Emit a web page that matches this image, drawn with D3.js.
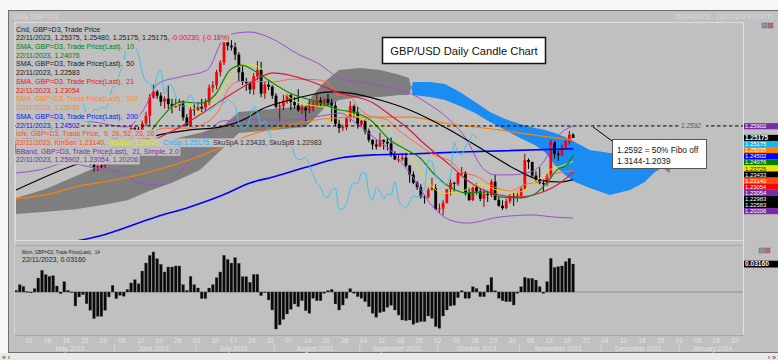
<!DOCTYPE html>
<html><head><meta charset="utf-8">
<script src="https://cdn.jsdelivr.net/npm/d3@7"></script>
<style>
html,body{margin:0;padding:0;background:#f6f6f6;overflow:hidden;}
svg{display:block;font-family:"Liberation Sans",Arial,sans-serif;}
text{white-space:pre;}
</style></head><body>
<svg id="c" width="778" height="360"></svg>
<script>
// ---------------- DATA ----------------
// Daily candles 26/04/2023 .. 22/11/2023 : [open, high, low, close]
const ohlc = [
[1.2430,1.2500,1.2415,1.2475],[1.2475,1.2510,1.2440,1.2495],[1.2495,1.2585,1.2480,1.2567],[1.2567,1.2575,1.2440,1.2494],
[1.2494,1.2545,1.2460,1.2490],[1.2490,1.2580,1.2485,1.2567],[1.2567,1.2590,1.2530,1.2566],[1.2566,1.2645,1.2545,1.2632],
[1.2632,1.2640,1.2590,1.2620],[1.2620,1.2640,1.2585,1.2628],[1.2628,1.2680,1.2600,1.2630],[1.2630,1.2640,1.2470,1.2486],
[1.2486,1.2500,1.2435,1.2451],[1.2451,1.2535,1.2445,1.2525],[1.2525,1.2545,1.2470,1.2485],[1.2485,1.2510,1.2455,1.2476],
[1.2476,1.2490,1.2410,1.2419],[1.2419,1.2470,1.2395,1.2446],[1.2446,1.2470,1.2420,1.2438],[1.2438,1.2450,1.2390,1.2414],
[1.2414,1.2425,1.2345,1.2360],[1.2360,1.2375,1.2308,1.2336],[1.2336,1.2370,1.2310,1.2346],[1.2346,1.2380,1.2330,1.2343],
[1.2343,1.2410,1.2330,1.2394],[1.2394,1.2450,1.2350,1.2436],[1.2436,1.2545,1.2425,1.2525],[1.2525,1.2545,1.2430,1.2453],
[1.2453,1.2475,1.2370,1.2434],[1.2434,1.2440,1.2375,1.2435],[1.2435,1.2490,1.2410,1.2477],[1.2477,1.2585,1.2460,1.2578],
[1.2578,1.2590,1.2540,1.2570],[1.2570,1.2585,1.2490,1.2505],[1.2505,1.2625,1.2500,1.2607],[1.2607,1.2680,1.2590,1.2655],
[1.2655,1.2790,1.2590,1.2770],[1.2770,1.2848,1.2760,1.2805],[1.2805,1.2815,1.2760,1.2780],[1.2780,1.2800,1.2715,1.2742],
[1.2742,1.2775,1.2700,1.2761],[1.2761,1.2840,1.2700,1.2727],[1.2727,1.2760,1.2670,1.2714],[1.2714,1.2760,1.2705,1.2715],
[1.2715,1.2760,1.2685,1.2745],[1.2745,1.2750,1.2625,1.2645],[1.2645,1.2665,1.2590,1.2595],[1.2595,1.2710,1.2590,1.2695],
[1.2695,1.2725,1.2655,1.2690],[1.2690,1.2740,1.2680,1.2710],[1.2710,1.2760,1.2675,1.2700],[1.2700,1.2760,1.2680,1.2740],
[1.2740,1.2850,1.2720,1.2830],[1.2830,1.2870,1.2800,1.2845],[1.2845,1.2940,1.2820,1.2925],[1.2925,1.3000,1.2900,1.2985],
[1.2985,1.3130,1.2970,1.3125],[1.3125,1.3144,1.3060,1.3090],[1.3090,1.3125,1.3060,1.3080],[1.3080,1.3110,1.3000,1.3035],
[1.3035,1.3050,1.2870,1.2925],[1.2925,1.2965,1.2845,1.2868],[1.2868,1.2890,1.2810,1.2858],[1.2858,1.2865,1.2790,1.2818],
[1.2818,1.2920,1.2785,1.2900],[1.2900,1.2995,1.2880,1.2939],[1.2939,1.2990,1.2770,1.2792],[1.2792,1.2870,1.2760,1.2848],
[1.2848,1.2875,1.2815,1.2836],[1.2836,1.2845,1.2760,1.2780],[1.2780,1.2795,1.2700,1.2712],[1.2712,1.2740,1.2620,1.2715],
[1.2715,1.2785,1.2690,1.2750],[1.2750,1.2790,1.2730,1.2783],[1.2783,1.2790,1.2690,1.2740],[1.2740,1.2770,1.2700,1.2720],
[1.2720,1.2820,1.2680,1.2690],[1.2690,1.2725,1.2665,1.2705],[1.2705,1.2715,1.2615,1.2688],[1.2688,1.2760,1.2670,1.2702],
[1.2702,1.2750,1.2680,1.2725],[1.2725,1.2790,1.2710,1.2750],[1.2750,1.2770,1.2710,1.2735],[1.2735,1.2760,1.2720,1.2758],
[1.2758,1.2790,1.2720,1.2735],[1.2735,1.2760,1.2620,1.2718],[1.2718,1.2740,1.2590,1.2605],[1.2605,1.2630,1.2548,1.2578],
[1.2578,1.2600,1.2560,1.2585],[1.2585,1.2650,1.2565,1.2640],[1.2640,1.2745,1.2615,1.2715],[1.2715,1.2725,1.2640,1.2675],
[1.2675,1.2710,1.2575,1.2600],[1.2600,1.2630,1.2590,1.2625],[1.2625,1.2635,1.2540,1.2560],[1.2560,1.2575,1.2490,1.2505],
[1.2505,1.2510,1.2445,1.2476],[1.2476,1.2505,1.2445,1.2465],[1.2465,1.2550,1.2460,1.2504],[1.2504,1.2510,1.2445,1.2493],
[1.2493,1.2515,1.2440,1.2483],[1.2483,1.2520,1.2400,1.2412],[1.2412,1.2435,1.2380,1.2384],[1.2384,1.2415,1.2365,1.2386],
[1.2386,1.2425,1.2375,1.2396],[1.2396,1.2425,1.2335,1.2346],[1.2346,1.2350,1.2240,1.2290],[1.2290,1.2310,1.2230,1.2239],
[1.2239,1.2250,1.2195,1.2212],[1.2212,1.2230,1.2140,1.2154],[1.2154,1.2165,1.2110,1.2150],[1.2150,1.2210,1.2140,1.2195],
[1.2195,1.2270,1.2190,1.2205],[1.2205,1.2230,1.2070,1.2074],[1.2074,1.2110,1.2050,1.2079],[1.2079,1.2130,1.2037,1.2114],
[1.2114,1.2200,1.2110,1.2199],[1.2199,1.2260,1.2160,1.2239],[1.2239,1.2245,1.2185,1.2233],[1.2233,1.2305,1.2220,1.2299],
[1.2299,1.2337,1.2280,1.2302],[1.2302,1.2310,1.2160,1.2174],[1.2174,1.2210,1.2125,1.2132],[1.2132,1.2220,1.2125,1.2211],
[1.2211,1.2235,1.2165,1.2185],[1.2185,1.2200,1.2125,1.2140],[1.2140,1.2200,1.2090,1.2170],[1.2170,1.2190,1.2120,1.2163],
[1.2163,1.2260,1.2150,1.2246],[1.2246,1.2290,1.2130,1.2133],[1.2133,1.2150,1.2090,1.2096],[1.2096,1.2130,1.2070,1.2082],
[1.2082,1.2140,1.2075,1.2125],[1.2125,1.2170,1.2110,1.2157],[1.2157,1.2180,1.2095,1.2151],[1.2151,1.2185,1.2120,1.2160],
[1.2160,1.2215,1.2140,1.2202],[1.2202,1.2420,1.2195,1.2380],[1.2380,1.2390,1.2325,1.2368],[1.2368,1.2370,1.2270,1.2284],
[1.2284,1.2310,1.2240,1.2260],[1.2260,1.2335,1.2230,1.2237],[1.2237,1.2260,1.2185,1.2233],[1.2233,1.2295,1.2220,1.2281],
[1.2281,1.2505,1.2265,1.2492],[1.2492,1.2505,1.2390,1.2419],[1.2419,1.2440,1.2375,1.2412],[1.2412,1.2475,1.2405,1.2460],
[1.2460,1.2510,1.2445,1.2493],[1.2493,1.2560,1.2475,1.2538],[1.25375,1.25480,1.25175,1.25175]
];
// indicator lines: [candle index, price]
const sma10 = [[0,1.2517],[7.8,1.2579],[15.8,1.2443],[22.5,1.2381],[29.1,1.2430],[35,1.2523],[39.3,1.2647],[44.2,1.2741],[49.5,1.2734],[53.6,1.2784],[57.6,1.2939],[60.8,1.2970],[64.3,1.2933],[69.2,1.2858],[73.8,1.2796],[81.1,1.2741],[87.2,1.2691],[91.8,1.2672],[95.4,1.2629],[100.7,1.2505],[105.2,1.2443],[108.8,1.2393],[112.3,1.2300],[116.8,1.2213],[121.4,1.2176],[126.8,1.2182],[130.3,1.2151],[135.7,1.2145],[139.2,1.2163],[142.9,1.2238],[145.7,1.2319],[148.3,1.2350],[150,1.24076]];
const sma21 = [[0,1.2486],[11.8,1.2498],[22.5,1.2455],[30.5,1.2443],[37.7,1.2511],[44.2,1.2585],[51.5,1.2691],[57.6,1.2784],[63,1.2858],[69.2,1.2921],[78.3,1.2877],[87.2,1.2796],[96.2,1.2734],[100.7,1.2660],[106,1.2567],[108.8,1.2505],[116.8,1.2350],[121.4,1.2256],[125.8,1.2194],[130.3,1.2163],[134.9,1.2151],[141.1,1.2176],[146.5,1.2238],[150,1.23054]];
const sma50 = [[0,1.2194],[13.6,1.2331],[25,1.2420],[38.5,1.2536],[46.8,1.2567],[54.9,1.2585],[62.2,1.2641],[65.7,1.2691],[73.8,1.2753],[79.2,1.2784],[84.6,1.2803],[89.9,1.2796],[98,1.2753],[106,1.2691],[116.8,1.2567],[125.8,1.2443],[134.9,1.2318],[141.1,1.2256],[146.5,1.2244],[150,1.22583]];
const sma100 = [[0,1.2139],[9.1,1.2170],[17.1,1.2219],[25.1,1.2250],[35,1.2300],[45,1.2368],[54.9,1.2455],[63,1.2536],[71.1,1.2585],[82.7,1.2635],[91.8,1.2647],[106,1.2647],[116.8,1.2604],[130.3,1.2567],[139.2,1.2536],[150,1.25035]];
const sma200 = [[0,1.1800],[10,1.1850],[22.5,1.1909],[37.7,1.2027],[46.8,1.2089],[55.7,1.2163],[63,1.2238],[69.2,1.2275],[78.3,1.2337],[87.2,1.2393],[96.2,1.2412],[106,1.2418],[119.5,1.2430],[150,1.24502]];
const tenkan = [[0,1.2470],[5,1.2510],[10,1.2560],[15,1.2558],[20,1.2445],[25,1.2389],[30,1.2428],[35,1.2525],[40,1.2669],[45,1.2736],[50,1.2675],[55,1.2795],[58,1.2910],[62,1.2977],[66,1.2948],[70,1.2848],[75,1.2748],[80,1.2718],[85,1.2703],[90,1.2669],[95,1.2618],[100,1.2575],[105,1.2443],[110,1.2273],[115,1.2174],[120,1.2187],[125,1.2231],[130,1.2190],[135,1.2180],[140,1.2248],[144,1.2323],[147,1.2345],[150,1.23725]];
const kijun = [[0,1.2388],[10,1.2513],[20,1.2513],[25,1.2494],[30,1.2494],[36,1.2549],[40,1.2578],[46,1.2578],[50,1.2599],[55,1.2705],[57,1.2817],[60,1.2867],[70,1.2867],[74,1.2882],[80,1.2880],[84,1.2863],[86,1.2793],[90,1.2772],[92,1.2712],[95,1.2655],[100,1.2630],[102,1.2585],[106,1.2515],[109,1.2465],[113,1.2408],[115,1.2391],[117,1.2374],[120,1.2306],[124,1.2279],[127,1.2236],[131,1.2194],[133,1.2187],[137,1.2229],[141,1.2245],[144,1.2288],[150,1.23140]];
const bbUpper = [[0,1.2570],[10,1.2640],[20,1.2620],[30,1.2585],[34,1.2680],[38.5,1.2858],[44.2,1.2896],[51.5,1.2939],[55.7,1.3125],[59.5,1.3169],[63,1.3175],[68.5,1.3138],[76.4,1.3032],[81.1,1.2983],[87.2,1.2890],[94.6,1.2858],[99.9,1.2834],[106,1.2796],[110.7,1.2734],[116.8,1.2629],[121.4,1.2505],[125,1.2350],[129,1.2288],[133,1.2288],[138.4,1.2306],[142.4,1.2381],[145.1,1.2505],[147.8,1.2567],[150,1.25902]];
const bbLower = [[0,1.2300],[6.4,1.2319],[13.6,1.2362],[21.1,1.2331],[27.8,1.2306],[33.2,1.2238],[38.5,1.2225],[46.8,1.2381],[51.5,1.2548],[55.7,1.2623],[60.3,1.2629],[71.1,1.2629],[78.3,1.2641],[83.8,1.2660],[87.2,1.2672],[91.2,1.2616],[96.2,1.2523],[100.7,1.2443],[106,1.2300],[112.3,1.2089],[116.8,1.2008],[121.4,1.1989],[130.3,1.2027],[139.2,1.2039],[144.6,1.2027],[150,1.20206]];
// Ichimoku cloud (plotted 26 ahead): [index, senkou span A, senkou span B]
const cloud = [[0,1.2145,1.2045],[8,1.2200,1.2060],[16,1.2280,1.2075],[24,1.2360,1.2105],[30,1.2412,1.2130],[36,1.2480,1.2190],[42,1.2510,1.2240],[49.5,1.2548,1.2319],[56,1.2598,1.2460],[60,1.2679,1.2548],[66,1.2691,1.2561],[72,1.2703,1.2573],[78,1.2716,1.2585],[80,1.2784,1.2629],[83,1.2865,1.2703],[87,1.2939,1.2753],[92.6,1.2952,1.2772],[98,1.2939,1.2772],[103.4,1.2908,1.2784],[105.8,1.2890,1.2784],[106.9,1.2784,1.2865],[111.5,1.2772,1.2865],[115.5,1.2753,1.2852],[119.5,1.2716,1.2803],[123.6,1.2672,1.2741],[127.6,1.2616,1.2679],[131.7,1.2567,1.2635],[135.7,1.2517,1.2604],[139.7,1.2474,1.2579],[142.4,1.2430,1.2567],[145.1,1.2350,1.2548],[147.8,1.2288,1.2523],[150.5,1.2244,1.2492],[154.5,1.2207,1.2443],[159.9,1.2163,1.2424],[165.3,1.2194,1.2418],[169.3,1.2244,1.2399],[172,1.2306,1.2368],[174,1.2334,1.2334],[176,1.23433,1.22983]];
// Momentum(14), thousandths
const momentum = [1.9,8.3,6.4,0.5,-1.0,3.8,15.8,24.5,19.6,17.7,18.4,6.8,-1.9,11.7,1.9,-0.8,-15.8,-5.6,-3.0,-13.2,
-20.7,-30.1,-27.5,-27.5,-20.7,-5.6,7.5,-7.5,-3.8,-4.9,3.0,10.2,13.9,9.4,23.7,32.7,41.4,45.2,37.6,31.2,
22.6,28.2,28.2,29.4,29.4,8.3,1.9,17.7,8.3,4.5,-7.5,-7.5,4.5,8.3,16.2,22.6,41.4,36.9,32.7,38.8,
32.4,17.3,17.3,10.9,19.9,19.9,-4.1,-0.3,-9.0,-20.3,-41.8,-37.2,-30.9,-24.8,-19.6,-13.5,-16.6,-9.8,-21.1,-24.1,
-7.1,-9.8,-9.8,-1.5,1.5,3.0,-13.5,-20.3,-14.7,-7.1,3.8,-1.5,-5.3,-7.1,-10.9,-16.6,-24.1,-28.6,-23.3,-22.2,
-17.3,-15.0,-20.3,-26.0,-31.6,-32.4,-31.6,-36.5,-34.6,-33.5,-33.5,-27.1,-29.7,-39.1,-41.0,-27.1,-20.3,-15.8,-15.0,-6.4,
1.5,-7.1,-7.1,6.0,4.1,-5.3,-5.3,7.9,16.6,1.5,-7.1,-9.8,-10.9,-10.9,-14.7,-1.5,6.0,16.6,15.4,15.4,
13.5,6.0,-1.5,11.7,38.0,27.8,28.6,29.4,34.3,38.0,31.6];
// axis labels
const weekLabels = ["01","08","15","22","29","05","12","19","26","03","10","17","24","31","07","14","21","28","04","11","18","25","02","09","16","23","30","06","13","20","27","04","11","18","25","01","08","15","22"];
const weekStartIndex = 3; // Monday 01/05/2023
const monthNames = ["May 2023","June 2023","July 2023","August 2023","September 2023","October 2023","November 2023","December 2023","January 2024"];
const monthStart = [3,26,48,69,92,113,135,157,178,197];
// right axis value tags
const tagValues = [1.25902,1.25175,1.25175,1.25035,1.24502,1.24076,1.23725,1.23433,1.23140,1.23054,1.23054,1.22983,1.22583,1.20206];
const tagColors = ["#7a2aa8","#000000","#18b4ef","#ff7f00","#0000ff","#008000","#e6e600","#000000","#ff4a10","#ff0000","#7a2aa8","#000000","#000000","#7a2aa8"];
const legendLines = [
 [["Cnd, GBP=D3, Trade Price","#1a1a1a"]],
 [["22/11/2023, 1.25375, 1.25480, 1.25175, 1.25175, ","#1a1a1a"],["-0.00230, (-0.18%)","#f01010"]],
 [["SMA, GBP=D3, Trade Price(Last),  10","#008000"]],
 [["22/11/2023, 1.24076","#008000"]],
 [["SMA, GBP=D3, Trade Price(Last),  50","#1a1a1a"]],
 [["22/11/2023, 1.22583","#1a1a1a"]],
 [["SMA, GBP=D3, Trade Price(Last),  21","#f01010"]],
 [["22/11/2023, 1.23054","#f01010"]],
 [["SMA, GBP=D3, Trade Price(Last),  100","#ff8a20"]],
 [["22/11/2023, 1.25035","#ff8a20"]],
 [["SMA, GBP=D3, Trade Price(Last),  200","#1010f0"]],
 [["22/11/2023, 1.24502","#1010f0"]],
 [["Ichi, GBP=D3, Trade Price,  9, 26, 52, 26, 26","#ff4a10"]],
 [["22/11/2023, KinSen 1.23140, ","#ff4a10"],["TenSen 1.23725, ","#e6e600"],["ChiSp 1.25175, ","#18b4ef"],["SkuSpA 1.23433, SkuSpB 1.22983","#303030"]],
 [["BBand, GBP=D3, Trade Price(Last),  21, Simple, 2.0","#7a2aa8"]],
 [["22/11/2023, 1.25902, 1.23054, 1.20206","#7a2aa8"]]
];

// ---------------- LAYOUT ----------------
const PL=15, PR=743, MT=22, MB=240, ST=245, SB=335;
const BG="#c0c0c0";
const svg = d3.select("#c");
const x = d3.scaleLinear().domain([0,150]).range([16,16+150*3.714]);
const y = d3.scaleLinear().domain([1.18839,1.32371]).range([MB,MT]);
const ym = d3.scaleLinear().domain([-0.04853,0.05305]).range([SB,ST]);

svg.append("rect").attr("width",778).attr("height",360).attr("fill","#f6f6f6");
svg.append("rect").attr("x",8.5).attr("y",10.5).attr("width",772).attr("height",342).attr("fill",BG).attr("stroke","#6e6e6e");
svg.append("text").attr("x",13).attr("y",18.5).attr("font-size",7).attr("fill","#dadada").text("Daily GBP=D3");
svg.append("text").attr("x",773).attr("y",18.5).attr("font-size",7).attr("fill","#dadada").attr("text-anchor","end").text("26/04/2023 - 26/01/2024 (GMT)");

const defs = svg.append("defs");
defs.append("clipPath").attr("id","cm").append("rect").attr("x",PL).attr("y",MT).attr("width",PR-PL).attr("height",MB-MT);
defs.append("clipPath").attr("id","cs").append("rect").attr("x",PL).attr("y",ST).attr("width",PR-PL).attr("height",SB-ST);

// panel frames
svg.append("rect").attr("x",PL+0.5).attr("y",MT+0.5).attr("width",PR-PL).attr("height",MB-MT).attr("fill",BG).attr("stroke","#dedede");
svg.append("rect").attr("x",PL+0.5).attr("y",ST+0.5).attr("width",PR-PL).attr("height",SB-ST).attr("fill",BG).attr("stroke","#a6a6a6");
svg.append("line").attr("x1",PL).attr("x2",PL).attr("y1",MT).attr("y2",SB).attr("stroke","#dedede");
svg.append("line").attr("x1",PR+0.5).attr("x2",PR+0.5).attr("y1",MT).attr("y2",SB).attr("stroke","#e2e2e2");

const gm = svg.append("g").attr("clip-path","url(#cm)");

// cloud, with crossing points inserted so the two colours meet cleanly
const cpts=[];
cloud.forEach((p,k)=>{cpts.push(p); const q=cloud[k+1]; if(q){const d1=p[1]-p[2], d2=q[1]-q[2]; if(d1*d2<0){const t=d1/(d1-d2); cpts.push([p[0]+t*(q[0]-p[0]),p[1]+t*(q[1]-p[1]),p[2]+t*(q[2]-p[2])]);}}});
gm.append("path").datum(cpts).attr("fill","#7e7e7e")
  .attr("d",d3.area().x(d=>x(d[0])).y0(d=>y(d[2])).y1(d=>Math.min(y(d[1]),y(d[2]))));
gm.append("path").datum(cpts).attr("fill","#1b8cf2")
  .attr("d",d3.area().x(d=>x(d[0])).y0(d=>y(d[1])).y1(d=>Math.min(y(d[1]),y(d[2]))));

const line = d3.line().x(d=>x(d[0])).y(d=>y(d[1])).curve(d3.curveMonotoneX);
function drawLine(data,color,w){gm.append("path").datum(data).attr("fill","none").attr("stroke",color).attr("stroke-width",w).attr("d",line);}

// candles
const cg = gm.append("g");
ohlc.forEach((d,i)=>{
  const up = d[3]>d[0];
  cg.append("line").attr("x1",x(i)).attr("x2",x(i)).attr("y1",y(d[1])).attr("y2",y(d[2])).attr("stroke",up?"#8a0000":"#000").attr("stroke-width",1);
  const top=y(Math.max(d[0],d[3])), bot=y(Math.min(d[0],d[3]));
  cg.append("rect").attr("x",x(i)-1.4).attr("width",2.8).attr("y",top).attr("height",Math.max(1,bot-top)).attr("fill",up?"#ff0000":"#000");
});

drawLine(bbUpper,"#9b4fd0",1);
drawLine(bbLower,"#9b4fd0",1);
drawLine(sma200,"#0000ff",1.6);
drawLine(sma100,"#ff8000",1.2);
drawLine(sma50,"#000000",1.2);
drawLine(kijun,"#ff6a3a",1);
drawLine(tenkan,"#e6e600",1);
drawLine(sma21,"#d81848",1.2);
drawLine(sma10,"#0a8a0a",1.2);

// fibo dashed line
gm.append("line").attr("x1",PL).attr("x2",PR).attr("y1",y(1.2592)).attr("y2",y(1.2592)).attr("stroke","#000").attr("stroke-dasharray","3.5,2.5").attr("stroke-width",1);
gm.append("rect").attr("x",679).attr("y",y(1.2592)-3.5).attr("width",27).attr("height",7).attr("fill",BG);
gm.append("text").attr("x",681).attr("y",y(1.2592)+2.3).attr("font-size",6.5).attr("font-style","italic").attr("fill","#555").text("1.2592");
gm.append("line").attr("x1",593).attr("y1",y(1.2592)+1).attr("x2",612).attr("y2",141).attr("stroke","#000");

// legend
const lg = svg.append("g").attr("font-size",7);
legendLines.forEach((parts,k)=>{
  const yy = 31.5 + k*8.73;
  const r = lg.append("rect").attr("fill",BG);
  const t = lg.append("text").attr("x",16).attr("y",yy);
  parts.forEach(p=>t.append("tspan").attr("fill",p[1]).text(p[0]));
  const len = t.node().getComputedTextLength();
  r.attr("x",15.5).attr("y",yy-6.6).attr("width",len+2).attr("height",8.7);
});

// chikou span (close plotted 26 bars back)
drawLine(ohlc.map((d,i)=>[i-26,d[3]]),"#3cc0f0",1);

// title
svg.append("rect").attr("x",382.5).attr("y",37.5).attr("width",163).attr("height",26).attr("fill","#fff").attr("stroke","#111").attr("stroke-width",1.5);
svg.append("text").attr("x",464).attr("y",54.5).attr("text-anchor","middle").attr("font-size",11.2).attr("fill","#111").text("GBP/USD Daily Candle Chart");
// annotation
svg.append("rect").attr("x",612.5).attr("y",139.5).attr("width",94).attr("height",29).attr("fill","#fff").attr("stroke","#555");
svg.append("text").attr("x",617).attr("y",153).attr("font-size",8.3).attr("fill","#111").text("1.2592 = 50% Fibo off");
svg.append("text").attr("x",617).attr("y",164).attr("font-size",8.3).attr("fill","#111").text("1.3144-1.2039");

// right tags: first two at their value, the rest stacked below the close tag
let prev=-1e9;
tagValues.forEach((v,k)=>{
  const c = k<=1 ? Math.max(y(v), prev+6.1) : prev+6.1; prev=c;
  const col=tagColors[k];
  svg.append("rect").attr("x",744).attr("y",c-3.05).attr("width",34).attr("height",6.1).attr("fill",col);
  svg.append("text").attr("x",745).attr("y",c+2.1).attr("font-size",k===1?6.4:5.9).attr("font-weight",k===1?"bold":"normal")
    .attr("fill",col==="#e6e600"?"#222":"#fff").text(v.toFixed(5));
});

// momentum panel
const gs = svg.append("g").attr("clip-path","url(#cs)");
gs.append("line").attr("x1",PL).attr("x2",PR).attr("y1",ym(0)).attr("y2",ym(0)).attr("stroke","#8a8a8a");
momentum.forEach((m,i)=>{
  const v=m/1000, y0=ym(0), y1=ym(v);
  gs.append("rect").attr("x",x(i)-1.4).attr("width",2.8).attr("y",Math.min(y0,y1)).attr("height",Math.max(0.8,Math.abs(y1-y0))).attr("fill","#0a0a0a").attr("stroke","#555").attr("stroke-width",0.3);
});
svg.append("text").attr("x",22).attr("y",253.5).attr("font-size",4.6).attr("fill","#222").text("Mom, GBP=D3, Trade Price(Last),  14");
svg.append("text").attr("x",22).attr("y",262).attr("font-size",7).attr("fill","#222").text("22/11/2023, 0.03160");
const mv = momentum[momentum.length-1]/1000;
svg.append("rect").attr("x",744).attr("y",ym(mv)-3.3).attr("width",34).attr("height",6.8).attr("fill","#000");
svg.append("text").attr("x",745).attr("y",ym(mv)+2.4).attr("font-size",6.6).attr("font-weight","bold").attr("fill","#fff").text(mv.toFixed(5));
// small panel buttons
[[762,23],[759,248]].forEach(p=>{
  svg.append("rect").attr("x",p[0]).attr("y",p[1]).attr("width",5).attr("height",5).attr("fill","#8a94a8").attr("stroke","#666").attr("stroke-width",0.5);
  svg.append("rect").attr("x",p[0]+6).attr("y",p[1]).attr("width",5).attr("height",5).attr("fill","#c06a6a").attr("stroke","#666").attr("stroke-width",0.5);
});

// x axis labels
const ax = svg.append("g").attr("font-size",6.5).attr("fill","#e4e4e4");
weekLabels.forEach((t,k)=>{
  ax.append("text").attr("x",x(weekStartIndex+5*k)+2).attr("y",343).attr("text-anchor","middle").text(t);
});
monthNames.forEach((m,k)=>{
  const a=x(monthStart[k]), b=x(monthStart[k+1]);
  ax.append("text").attr("x",(a+b)/2).attr("y",351).attr("text-anchor","middle").text(m);
  if(k>0) svg.append("line").attr("x1",a+2).attr("x2",a+2).attr("y1",344).attr("y2",352).attr("stroke","#dcdcdc").attr("stroke-width",0.8);
});
// bottom scroll bar
svg.append("rect").attr("x",0).attr("y",353).attr("width",778).attr("height",7).attr("fill","#e9e9e9");
svg.append("text").attr("x",2).attr("y",359.5).attr("font-size",7).attr("fill","#333").text("« ‹");
svg.append("text").attr("x",776).attr("y",359.5).attr("font-size",7).attr("fill","#333").attr("text-anchor","end").text("› »");
</script>
</body></html>
